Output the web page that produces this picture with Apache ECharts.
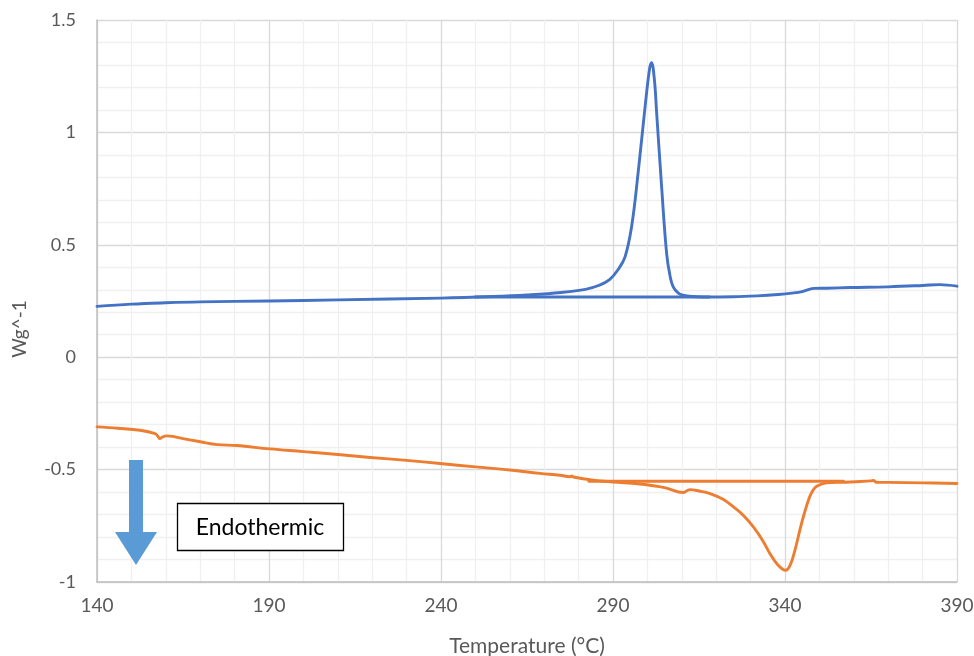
<!DOCTYPE html>
<html><head><meta charset="utf-8">
<script src="https://cdn.jsdelivr.net/npm/echarts@6/dist/echarts.min.js"></script>
<style>html,body{margin:0;padding:0;background:#fff}#c{width:974px;height:656px}</style>
</head><body><div id="c"></div>
<script>
const blueT = [140,150,160,170,190,210,240,255,265,275,282,286,289,291.5,293.5,295.4,297.3,299.3,300.6,301.2,302,302.7,304.2,305.6,306.6,307.5,309,310.4,313,316,325,332,338,342,345,347,348.5,352,359,370,380,385,390];
const blueV = [0.226,0.236,0.242,0.246,0.250,0.255,0.263,0.270,0.277,0.288,0.302,0.320,0.345,0.39,0.446,0.58,0.82,1.11,1.28,1.31,1.24,1.085,0.743,0.46,0.36,0.313,0.285,0.276,0.27,0.268,0.269,0.273,0.279,0.285,0.292,0.302,0.306,0.307,0.31,0.313,0.319,0.323,0.316];
const orangeT = [140,146,152.5,156.9,157.7,158.3,159,160.3,162,165,170,175,180.6,190.3,200,210,219.4,230,239.7,250,260,268.8,274.6,277.5,278,278.5,284.3,290,297.8,305,310.4,311.5,312.4,315,318.2,322,325,328,330.8,333.5,335.6,338,340.2,341.5,342.9,344.8,346.8,348,349.2,352.1,356.9,362,365,365.7,366.5,370,380,390];
const orangeV = [-0.31,-0.316,-0.325,-0.34,-0.352,-0.362,-0.355,-0.35,-0.352,-0.362,-0.376,-0.389,-0.393,-0.408,-0.42,-0.433,-0.446,-0.459,-0.473,-0.488,-0.502,-0.517,-0.525,-0.532,-0.528,-0.533,-0.547,-0.555,-0.564,-0.58,-0.602,-0.594,-0.589,-0.595,-0.607,-0.632,-0.666,-0.705,-0.755,-0.815,-0.873,-0.925,-0.948,-0.925,-0.858,-0.74,-0.636,-0.595,-0.574,-0.559,-0.556,-0.553,-0.55,-0.548,-0.556,-0.557,-0.559,-0.562];
const blueBaseT = [250,318];
const blueBaseV = [0.268,0.268];
const orangeBaseT = [283,357];
const orangeBaseV = [-0.552,-0.552];
const xTicks = {min:140,max:390,interval:50};
const yTicks = {min:-1,max:1.5,interval:0.5};

const zip = (a,b)=>a.map((v,i)=>[v,b[i]]);
const chart = echarts.init(document.getElementById('c'));
const FONT = 'Lato';
const lineS = (data,color,smooth)=>({type:'line',data,showSymbol:false,smooth:smooth,
  lineStyle:{color,width:2.9,join:'round',cap:'round'},itemStyle:{color},animation:false,z:3});
chart.setOption({
  animation:false,
  grid:{left:97,right:17,top:20,bottom:74,containLabel:false,outerBoundsMode:'none'},
  xAxis:{type:'value',min:xTicks.min,max:xTicks.max,interval:xTicks.interval,
    name:'Temperature (°C)',nameLocation:'middle',nameGap:54,
    nameTextStyle:{fontFamily:FONT,fontSize:21,color:'#595959'},
    axisLine:{show:true,onZero:false,lineStyle:{color:'#bfbfbf',width:1.5}},axisTick:{show:false},
    axisLabel:{fontFamily:FONT,fontSize:19,color:'#595959',margin:14},
    splitLine:{show:true,lineStyle:{color:'#d9d9d9',width:1.3}},
    minorTick:{show:false,splitNumber:5},
    minorSplitLine:{show:true,lineStyle:{color:'#f0f0f0',width:1.3}}},
  yAxis:{type:'value',min:yTicks.min,max:yTicks.max,interval:yTicks.interval,
    name:'Wg^-1',nameLocation:'middle',nameGap:68,nameRotate:90,
    nameTextStyle:{fontFamily:FONT,fontSize:19,color:'#595959',padding:[0,56,0,0]},
    axisLine:{show:true,onZero:false,lineStyle:{color:'#bfbfbf',width:1.5}},axisTick:{show:false},
    axisLabel:{fontFamily:FONT,fontSize:18,color:'#595959',margin:21},
    splitLine:{show:true,lineStyle:{color:'#d9d9d9',width:1.3}},
    minorTick:{show:false,splitNumber:5},
    minorSplitLine:{show:true,lineStyle:{color:'#f0f0f0',width:1.3}}},
  series:[
    lineS(zip(blueT,blueV),'#4472C4',0.4),
    lineS(zip(blueBaseT,blueBaseV),'#4472C4',false),
    lineS(zip(orangeT,orangeV),'#ED7D31',0.4),
    lineS(zip(orangeBaseT,orangeBaseV),'#ED7D31',false)
  ],
  graphic:[
    {type:'polygon',z:10,shape:{points:[[129,460],[143,460],[143,532],[157,532],[136,565],[115,532],[129,532]]},
      style:{fill:'#5B9BD5'}},
    {type:'rect',z:10,shape:{x:177.5,y:503.5,width:166,height:47},style:{fill:'#fff',stroke:'#000',lineWidth:1.3}},
    {type:'text',z:11,x:260,y:528,style:{text:'Endothermic',fontFamily:FONT,fontSize:23,fill:'#000',align:'center',verticalAlign:'middle'}}
  ]
});
</script></body></html>
